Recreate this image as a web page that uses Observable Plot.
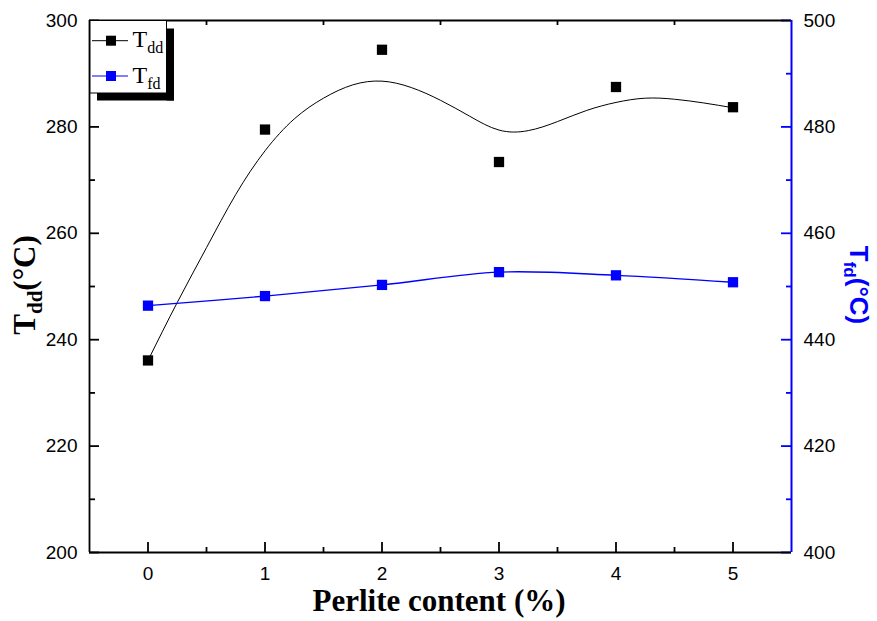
<!DOCTYPE html>
<html>
<head>
<meta charset="utf-8">
<script src="https://cdn.jsdelivr.net/npm/d3@7"></script>
<script src="https://cdn.jsdelivr.net/npm/@observablehq/plot@0.6"></script>
<style>
  html, body { margin: 0; padding: 0; background: #ffffff; }
</style>
</head>
<body>
<div id="chart"></div>
<script>
// ---- data ----
const perlite = [0, 1, 2, 3, 4, 5];
const tddValues = [236.1, 279.5, 294.5, 273.4, 287.5, 283.7];
const tfdValues = [446.4, 448.2, 450.3, 452.7, 452.1, 450.8];
// smoothing fit drawn through the T_dd series
const fitX = [0, 0.25, 0.5, 0.75, 1, 1.25, 1.5, 1.75, 2, 2.25, 2.5, 2.75, 3, 3.25, 3.5, 3.75, 4, 4.25, 4.5, 4.75, 5];
const fitTdd = [236.1, 247.0, 257.3, 267.3, 275.5, 281.5, 285.4, 287.9, 288.6, 287.4, 285.0, 282.0, 279.4, 279.3, 281.0, 283.1, 284.6, 285.4, 285.2, 284.5, 283.6];
// ticks
const xTicks = [0, 1, 2, 3, 4, 5];
const xMinor = [0.5, 1.5, 2.5, 3.5, 4.5];
const yLeftTicks = [200, 220, 240, 260, 280, 300];
const yLeftMinor = [210, 230, 250, 270, 290];
const yRightTicks = [400, 420, 440, 460, 480, 500];
const yRightMinor = [410, 430, 450, 470, 490];
const rightOffset = 200; // right axis 400–500 maps onto left 200–300

const points = perlite.map((p, i) => ({p, tdd: tddValues[i], tfd: tfdValues[i]}));
const fit = fitX.map((p, i) => ({p, v: fitTdd[i]}));

const W = 877, H = 621, mL = 89, mR = 86, mT = 20, mB = 69;
const pw = W - mL - mR, ph = H - mT - mB;
const BLUE = "#0000ff";

const svg = Plot.plot({
  width: W, height: H,
  marginLeft: mL, marginRight: mR, marginTop: mT, marginBottom: mB,
  style: {fontFamily: "'Liberation Sans', Arial, sans-serif", fontSize: "19px", background: "#ffffff", color: "#000000", overflow: "visible"},
  x: {domain: [-0.5, 5.5]},
  y: {domain: [200, 300]},
  marks: [
    // tick labels
    Plot.axisX(xTicks, {tickSize: 0, tickPadding: 14, label: null, fontSize: 19, tickFormat: d => String(d)}),
    Plot.axisY(yLeftTicks, {anchor: "left", tickSize: 0, tickPadding: 12, label: null, fontSize: 19, tickFormat: d => String(d)}),
    Plot.axisY(yRightTicks.map(v => v - rightOffset), {anchor: "right", tickSize: 0, tickPadding: 12, label: null, fontSize: 19, tickFormat: d => String(d + rightOffset)}),
    // inward ticks
    Plot.tickX(xTicks, {x: d => d, insetTop: ph - 10, stroke: "#000", strokeWidth: 1.8}),
    Plot.tickX(xMinor, {x: d => d, insetTop: ph - 5, stroke: "#000", strokeWidth: 1.8}),
    Plot.tickX(xMinor, {x: d => d, insetBottom: ph - 5, stroke: "#000", strokeWidth: 1.8}),
    Plot.tickY(yLeftTicks, {y: d => d, insetRight: pw - 10, stroke: "#000", strokeWidth: 1.8}),
    Plot.tickY(yLeftMinor, {y: d => d, insetRight: pw - 6, stroke: "#000", strokeWidth: 1.8}),
    Plot.tickY(yRightTicks, {y: d => d - rightOffset, insetLeft: pw - 10, stroke: BLUE, strokeWidth: 1.8}),
    Plot.tickY(yRightMinor, {y: d => d - rightOffset, insetLeft: pw - 5, stroke: BLUE, strokeWidth: 1.8}),
    // frame
    Plot.ruleY([200], {stroke: "#000", strokeWidth: 1.8}),
    Plot.ruleY([300], {stroke: "#000", strokeWidth: 1.8}),
    Plot.ruleX([-0.5], {stroke: "#000", strokeWidth: 1.8}),
    Plot.ruleX([5.5], {stroke: BLUE, strokeWidth: 2}),
    // series
    Plot.line(fit, {x: "p", y: "v", curve: "natural", stroke: "#000", strokeWidth: 1}),
    Plot.line(points, {x: "p", y: d => d.tfd - rightOffset, curve: "catmull-rom", stroke: BLUE, strokeWidth: 1.4}),
    Plot.dot(points, {x: "p", y: "tdd", symbol: "square", r: 5.8, fill: "#000", stroke: "none"}),
    Plot.dot(points, {x: "p", y: d => d.tfd - rightOffset, symbol: "square", r: 5.8, fill: BLUE, stroke: "none"})
  ]
});

const g = d3.select(svg);

// axis titles
const lt = g.append("text")
  .attr("transform", "translate(35,285) rotate(-90)")
  .attr("text-anchor", "middle")
  .attr("fill", "#000")
  .style("font-family", "'Liberation Serif', 'Times New Roman', serif")
  .style("font-weight", "bold")
  .style("font-size", "31px");
lt.append("tspan").text("T");
lt.append("tspan").attr("dy", 7).style("font-size", "21px").text("dd");
lt.append("tspan").attr("dy", -7).text("(°C)");

const rt = g.append("text")
  .attr("transform", "translate(850,285) rotate(90)")
  .attr("text-anchor", "middle")
  .attr("fill", BLUE)
  .style("font-family", "'Liberation Sans', Arial, sans-serif")
  .style("font-weight", "bold")
  .style("font-size", "26px");
rt.append("tspan").text("T");
rt.append("tspan").attr("dy", 6).style("font-size", "17px").text("fd");
rt.append("tspan").attr("dy", -6).text("(°C)");

g.append("text")
  .attr("x", 439).attr("y", 611)
  .attr("text-anchor", "middle")
  .attr("fill", "#000")
  .style("font-family", "'Liberation Serif', 'Times New Roman', serif")
  .style("font-weight", "bold")
  .style("font-size", "31px")
  .text("Perlite content (%)");

// legend with drop shadow
const lg = g.append("g");
lg.append("rect").attr("x", 166.5).attr("y", 28.5).attr("width", 7.5).attr("height", 72).attr("fill", "#000");
lg.append("rect").attr("x", 97).attr("y", 93).attr("width", 77).attr("height", 7.5).attr("fill", "#000");
lg.append("rect").attr("x", 90).attr("y", 20.5).attr("width", 76.5).attr("height", 72.5).attr("fill", "#fff").attr("stroke", "#000").attr("stroke-width", 1);
const entries = [{name: "dd", color: "#000", y: 40.7}, {name: "fd", color: BLUE, y: 76}];
entries.forEach(e => {
  lg.append("line").attr("x1", 92).attr("x2", 128).attr("y1", e.y).attr("y2", e.y).attr("stroke", e.color).attr("stroke-width", 1);
  lg.append("rect").attr("x", 106).attr("y", e.y - 5).attr("width", 10).attr("height", 10).attr("fill", e.color);
  const t = lg.append("text").attr("x", 132.5).attr("y", e.y + 6.5)
    .attr("text-anchor", "start")
    .attr("fill", "#000")
    .style("font-family", "'Liberation Serif', 'Times New Roman', serif")
    .style("font-size", "24px");
  t.append("tspan").text("T");
  t.append("tspan").attr("dy", 6).style("font-size", "16px").text(e.name);
});

document.getElementById("chart").appendChild(svg);
</script>
</body>
</html>
